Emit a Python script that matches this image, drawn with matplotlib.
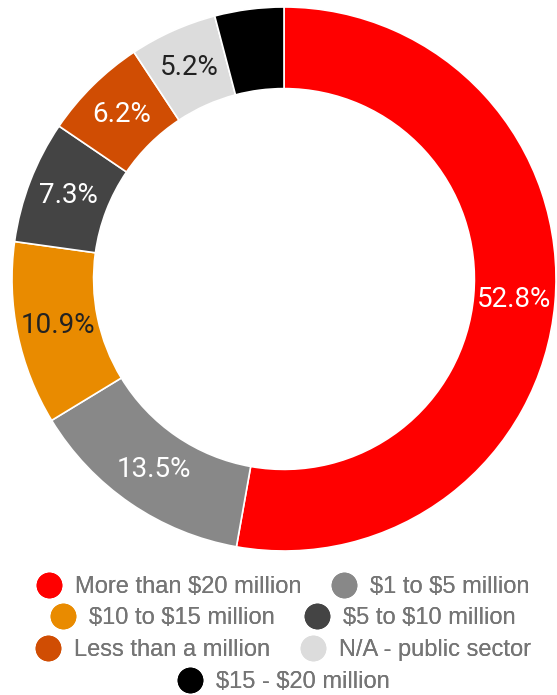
import matplotlib
matplotlib.use("Agg")
import matplotlib.pyplot as plt
from matplotlib.lines import Line2D
import numpy as np

plt.rcParams["text.parse_math"] = False

categories = ["More than $20 million", "$1 to $5 million", "$10 to $15 million",
              "$5 to $10 million", "Less than a million", "N/A - public sector",
              "$15 - $20 million"]
values = [52.8, 13.5, 10.9, 7.3, 6.2, 5.2, 4.1]
colors = ["#ff0000", "#888888", "#e98b00", "#444444", "#d04d03", "#dcdcdc", "#000000"]
label_colors = ["white", "white", "#222222", "white", "white", "#222222", "white"]
show_label = [True, True, True, True, True, True, False]
legend_rows = [[0, 1], [2, 3], [4, 5], [6]]

W, H = 557, 695
fig = plt.figure(figsize=(W / 100, H / 100), dpi=100)
R = 272
cx, cy = 284, 279
ax = fig.add_axes([(cx - R) / W, (H - cy - R) / H, 2 * R / W, 2 * R / H])
ring = 0.30
wedges, _ = ax.pie(values, colors=colors, startangle=90, counterclock=False,
                   radius=1.0, wedgeprops=dict(width=ring, edgecolor="white", linewidth=1.2))
for w, v, c, s in zip(wedges, values, label_colors, show_label):
    if not s:
        continue
    ang = np.deg2rad((w.theta1 + w.theta2) / 2)
    r = 1 - ring / 2
    ax.text(r * np.cos(ang), r * np.sin(ang), f"{v:.1f}%", ha="center", va="center",
            color=c, fontsize=20, family="Roboto")
ax.set_xlim(-1, 1)
ax.set_ylim(-1, 1)
ax.set_aspect("equal")
ax.axis("off")

row_y = [587, 618, 650, 682]
for row, y in zip(legend_rows, row_y):
    handles = [Line2D([], [], marker="o", linestyle="", markersize=17.5,
                      markerfacecolor=colors[i], markeredgecolor=colors[i]) for i in row]
    labels = [categories[i] for i in row]
    leg = fig.legend(handles, labels, loc="center", bbox_to_anchor=(283 / W, 1 - y / H),
                     ncol=len(row), frameon=False, handletextpad=0.55,
                     columnspacing=1.25, handlelength=1.1, borderpad=0,
                     prop=dict(family="Liberation Sans", size=17))
    for t in leg.get_texts():
        t.set_color("#757575")
    fig.add_artist(leg)

fig.savefig("out.png", dpi=100, facecolor="white")
